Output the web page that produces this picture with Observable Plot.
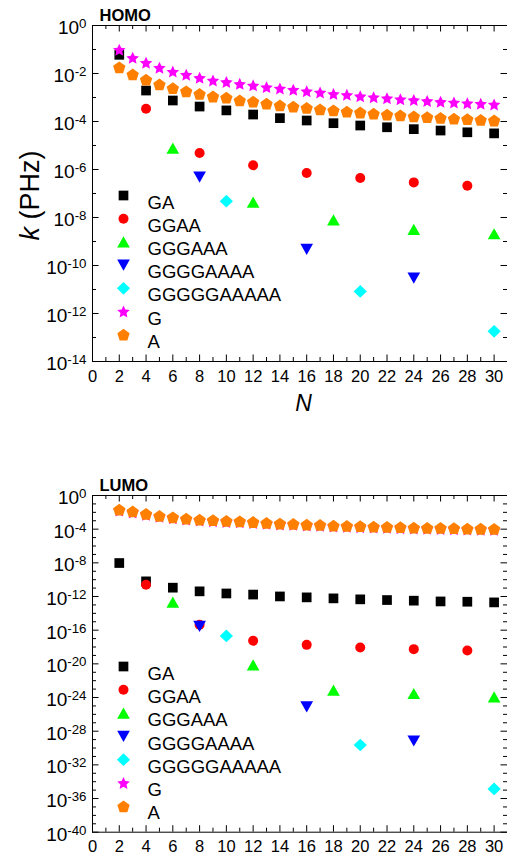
<!DOCTYPE html>
<html><head><meta charset="utf-8">
<script src="https://cdn.jsdelivr.net/npm/d3@7"></script>
<script src="https://cdn.jsdelivr.net/npm/@observablehq/plot@0.6"></script>
<style>
html,body{margin:0;padding:0;background:#fff;}
#chart{position:relative;width:507px;height:860px;overflow:hidden;}
#chart svg{display:block;}
</style></head><body><div id="chart"></div>
<script>
// ---------- categories ----------
const seriesNames = ["GA","GGAA","GGGAAA","GGGGAAAA","GGGGGAAAAA","G","A"];
const seriesColors = ["#000000","#ff0000","#00ff00","#0000ff","#00ffff","#ff00ff","#ff8000"];

// ---------- N values ----------
const nGA = [2,4,6,8,10,12,14,16,18,20,22,24,26,28,30];
const nGGAA = [4,8,12,16,20,24,28];
const nGGGAAA = [6,12,18,24,30];
const nGGGGAAAA = [8,16,24];
const nGGGGGAAAAA = [10,20,30];
const nAll = [2,3,4,5,6,7,8,9,10,11,12,13,14,15,16,17,18,19,20,21,22,23,24,25,26,27,28,29,30];

// ---------- HOMO k (PHz) ----------
const homoGA = [6.0e-2,1.95e-3,7.5e-4,4.2e-4,2.9e-4,1.95e-4,1.38e-4,1.1e-4,8.5e-5,6.8e-5,5.75e-5,4.8e-5,4.2e-5,3.55e-5,3.2e-5];
const homoGGAA = [3.4e-4,4.9e-6,1.5e-6,7.1e-7,4.4e-7,2.9e-7,2.1e-7];
const homoGGGAAA = [7.8e-6,4.4e-8,7.9e-9,3.2e-9,2.1e-9];
const homoGGGGAAAA = [4.8e-7,4.7e-10,3.0e-11];
const homoGGGGGAAAAA = [4.8e-8,8.3e-12,1.8e-13];
const homoG = [9.8e-2,4.5e-2,2.8e-2,1.74e-2,1.2e-2,8.9e-3,6.6e-3,5.1e-3,4.4e-3,3.7e-3,3.2e-3,2.7e-3,2.37e-3,2.1e-3,1.82e-3,1.62e-3,1.41e-3,1.29e-3,1.12e-3,1.02e-3,9.3e-4,8.5e-4,7.8e-4,7.1e-4,6.6e-4,6.2e-4,5.75e-4,5.5e-4,5.1e-4];
const homoA = [1.82e-2,9.1e-3,5.5e-3,3.5e-3,2.45e-3,1.82e-3,1.41e-3,1.1e-3,9.8e-4,7.5e-4,6.8e-4,5.5e-4,4.7e-4,4.2e-4,3.7e-4,3.2e-4,2.9e-4,2.6e-4,2.37e-4,2.14e-4,1.95e-4,1.78e-4,1.62e-4,1.51e-4,1.41e-4,1.33e-4,1.26e-4,1.17e-4,1.1e-4];

// ---------- LUMO k (PHz) ----------
const lumoGA = [9.5e-9,6.3e-11,1.12e-11,4.1e-12,2.3e-12,1.7e-12,1.02e-12,7.9e-13,6.0e-13,4.6e-13,3.8e-13,3.2e-13,2.6e-13,2.4e-13,2.0e-13];
const lumoGGAA = [2.5e-11,4.4e-16,5.5e-18,1.8e-18,8.7e-19,5.6e-19,3.8e-19];
const lumoGGGAAA = [2.2e-13,7.6e-21,7.4e-24,3.0e-24,1.2e-24];
const lumoGGGGAAAA = [2.8e-16,7.6e-26,6.8e-30];
const lumoGGGGGAAAAA = [2.1e-17,2.3e-30,1.4e-35];
const lumoG = [1.6e-2,9.5e-3,5.0e-3,2.9e-3,2.0e-3,1.4e-3,1.05e-3,8.7e-4,7.2e-4,6.6e-4,5.4e-4,4.3e-4,3.6e-4,3.3e-4,2.7e-4,2.45e-4,2.05e-4,1.85e-4,1.7e-4,1.55e-4,1.42e-4,1.3e-4,1.18e-4,1.1e-4,1.05e-4,9.8e-5,8.9e-5,8.5e-5,8.1e-5];
const lumoA = [2.1e-2,1.26e-2,6.6e-3,3.8e-3,2.6e-3,1.82e-3,1.38e-3,1.15e-3,9.5e-4,8.7e-4,7.1e-4,5.6e-4,4.7e-4,4.3e-4,3.5e-4,3.2e-4,2.7e-4,2.45e-4,2.24e-4,2.04e-4,1.86e-4,1.7e-4,1.55e-4,1.45e-4,1.38e-4,1.29e-4,1.17e-4,1.12e-4,1.07e-4];

// ---------- ticks ----------
const xDomain = [0, 31];
const xTicks = [0,2,4,6,8,10,12,14,16,18,20,22,24,26,28,30];
const xMinor = [1,3,5,7,9,11,13,15,17,19,21,23,25,27,29];
const homoYDomain = [1e-14, 1];
const homoYTicks = [1,1e-2,1e-4,1e-6,1e-8,1e-10,1e-12,1e-14];
const homoYMinor = [1e-1,1e-3,1e-5,1e-7,1e-9,1e-11,1e-13];
const lumoYDomain = [1e-40, 1];
const lumoYTicks = [1,1e-4,1e-8,1e-12,1e-16,1e-20,1e-24,1e-28,1e-32,1e-36,1e-40];
const lumoYMinor = [1e-1,1e-2,1e-3,1e-5,1e-6,1e-7,1e-9,1e-10,1e-11,1e-13,1e-14,1e-15,1e-17,1e-18,1e-19,1e-21,1e-22,1e-23,1e-25,1e-26,1e-27,1e-29,1e-30,1e-31,1e-33,1e-34,1e-35,1e-37,1e-38,1e-39];

// ---------- symbols ----------
const sym = fn => ({draw(c, size){ const r = Math.sqrt(size / Math.PI); fn(c, r); }});
const poly = (c, pts) => { pts.forEach(([x,y],i)=> i ? c.lineTo(x,y) : c.moveTo(x,y)); c.closePath(); };
const symSquare = sym((c,r)=>{const h=r*0.97; poly(c,[[-h,-h],[h,-h],[h,h],[-h,h]]);});
const symCircle = sym((c,r)=>{c.moveTo(r,0); c.arc(0,0,r,0,2*Math.PI);});
const symUp = sym((c,r)=>{const w=r*1.27,h=r*1.12; poly(c,[[0,-h],[w,h],[-w,h]]);});
const symDown = sym((c,r)=>{const w=r*1.27,h=r*1.12; poly(c,[[0,h],[w,-h],[-w,-h]]);});
const symDiamond = sym((c,r)=>{const w=r*1.32,h=r*1.27; poly(c,[[0,-h],[w,0],[0,h],[-w,0]]);});
const symStar = sym((c,r)=>{const R=r*1.32, ri=R*0.48; const p=[]; for(let i=0;i<10;i++){const a=-Math.PI/2+i*Math.PI/5, rr=i%2?ri:R; p.push([rr*Math.cos(a), rr*Math.sin(a)+R*0.09]);} poly(c,p);});
const symPentagon = sym((c,r)=>{const R=r*1.3; const p=[]; for(let i=0;i<5;i++){const a=-Math.PI/2+i*2*Math.PI/5; p.push([R*Math.cos(a), R*Math.sin(a)+R*0.095]);} poly(c,p);});
const seriesSymbols = [symSquare, symCircle, symUp, symDown, symDiamond, symStar, symPentagon];

function table(ns, vals) {
  const rows = [];
  ns.forEach((nArr, s) => nArr.forEach((n, i) => rows.push({series: seriesNames[s], N: n, k: vals[s][i]})));
  return rows;
}
const nSets = [nGA, nGGAA, nGGGAAA, nGGGGAAAA, nGGGGGAAAAA, nAll, nAll];
const homoTable = table(nSets, [homoGA, homoGGAA, homoGGGAAA, homoGGGGAAAA, homoGGGGGAAAAA, homoG, homoA]);
const lumoTable = table(nSets, [lumoGA, lumoGGAA, lumoGGGAAA, lumoGGGGAAAA, lumoGGGGGAAAAA, lumoG, lumoA]);

const FONT = '"Liberation Sans", Arial, sans-serif';
const W = 507, ML = 92, MR = 0;

function panel(o) {
  const fw = W - ML - MR, fh = o.height - o.marginTop - o.marginBottom;
  const MAJ = 6.5, MIN = 4;
  const marks = [
    Plot.ruleY([o.yDomain[1]], {stroke: "black"}),
    Plot.ruleY([o.yDomain[0]], {stroke: "black"}),
    Plot.ruleX([xDomain[0]], {stroke: "black"}),
    Plot.tickX(xTicks, {x: d => d, insetTop: fh - MAJ}),
    Plot.tickX(xMinor, {x: d => d, insetTop: fh - MIN}),
    Plot.tickX(xTicks, {x: d => d, insetBottom: fh - MAJ}),
    Plot.tickX(xMinor, {x: d => d, insetBottom: fh - MIN}),
    Plot.tickY(o.yTicks, {y: d => d, insetRight: fw - MAJ}),
    Plot.tickY(o.yMinor, {y: d => d, insetRight: fw - MIN}),
    Plot.tickY(o.yTicks, {y: d => d, insetLeft: fw - MAJ}),
    Plot.tickY(o.yMinor, {y: d => d, insetLeft: fw - MIN}),
    Plot.axisX({ticks: xTicks, tickSize: 0, tickPadding: o.xPad, tickFormat: d => String(d), fontSize: 16.5, label: null}),
    Plot.axisY({ticks: o.yTicks, tickSize: 0, tickPadding: 6, tickFormat: d => "10^" + Math.round(Math.log10(d)), fontSize: 19, dy: 2.5, label: null}),
    Plot.dot(o.tbl, {x: "N", y: "k", fill: "series", symbol: "series", r: 5, stroke: "none"}),
    Plot.text([o.title], {frameAnchor: "top-left", dx: 7, dy: o.titleDy, textAnchor: "start", fontWeight: "bold", fontSize: 16.5, fill: "black"})
  ];
  seriesNames.forEach((s, i) => {
    marks.push(Plot.dot([s], {frameAnchor: "top-left", dx: 31, dy: o.legDy + i * o.legStep, fill: d => d, symbol: d => d, r: 5, stroke: "none"}));
    marks.push(Plot.text([s], {frameAnchor: "top-left", dx: 55, dy: o.legDy + i * o.legStep, text: d => d, textAnchor: "start", fontSize: 18.5, fill: "black"}));
  });
  if (o.labels) {
    marks.push(Plot.text(["N"], {frameAnchor: "bottom", dx: 3.5, dy: 49, textAnchor: "middle", fontStyle: "italic", fontSize: 23, fill: "black"}));
    marks.push(Plot.text(["k (PHz)"], {frameAnchor: "left", dx: -62, dy: 2, rotate: -90, textAnchor: "middle", fontSize: 27, fill: "black"}));
  }
  const svg = Plot.plot({
    width: W, height: o.height,
    marginLeft: ML, marginRight: MR, marginTop: o.marginTop, marginBottom: o.marginBottom,
    style: {fontFamily: FONT, fontSize: "16px", color: "black", background: "white", overflow: "visible"},
    x: {domain: xDomain, axis: null},
    y: {type: "log", domain: o.yDomain, axis: null},
    color: {domain: seriesNames, range: seriesColors},
    symbol: {domain: seriesNames, range: seriesSymbols},
    marks
  });
  svg.querySelectorAll('g[aria-label="y-axis tick label"] text').forEach(t => {
    const [b, e] = t.textContent.split("^");
    if (e === undefined) return;
    t.textContent = b;
    const ts = document.createElementNS("http://www.w3.org/2000/svg", "tspan");
    ts.setAttribute("dy", "-0.45em");
    ts.setAttribute("font-size", "0.7em");
    ts.textContent = e;
    t.appendChild(ts);
  });
  svg.querySelectorAll('text').forEach(t => {
    if (t.textContent === "k (PHz)") {
      t.textContent = "";
      const a = document.createElementNS("http://www.w3.org/2000/svg", "tspan");
      a.setAttribute("font-style", "italic"); a.textContent = "k";
      t.appendChild(a);
      t.appendChild(document.createTextNode(" (PHz)"));
    }
  });
  return svg;
}

const chart = document.getElementById("chart");
chart.appendChild(panel({height: 430, marginTop: 25, marginBottom: 69, yDomain: homoYDomain, yTicks: homoYTicks, yMinor: homoYMinor,
  tbl: homoTable, title: "HOMO", titleDy: -16.7, legDy: 170, legStep: 23.2, labels: true, xPad: 9}));
chart.appendChild(panel({height: 430, marginTop: 65, marginBottom: 28.3, yDomain: lumoYDomain, yTicks: lumoYTicks, yMinor: lumoYMinor,
  tbl: lumoTable, title: "LUMO", titleDy: -16, legDy: 171, legStep: 23.3, labels: false, xPad: 7.7}));
</script></body></html>
